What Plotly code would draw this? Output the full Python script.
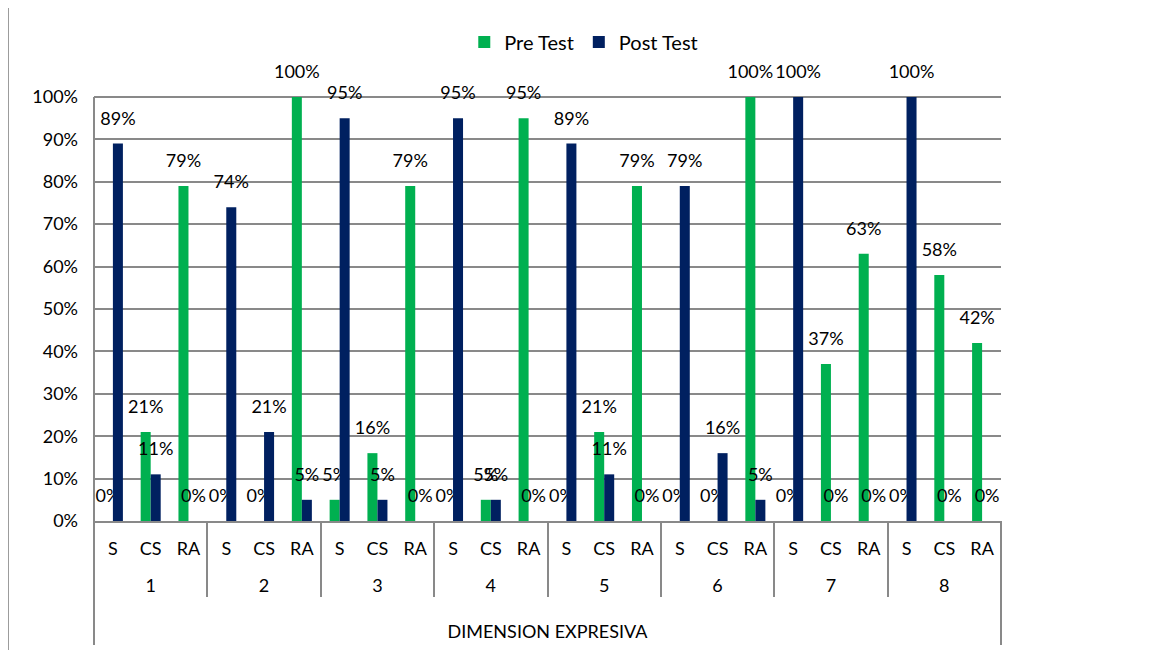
import plotly.graph_objects as go

# dimension groups and sub-categories
groups = ["1", "2", "3", "4", "5", "6", "7", "8"]
categories = ["S", "CS", "RA"]

# percentages, in order group 1 S/CS/RA, group 2 S/CS/RA, ...
pre_test = [0, 21, 79, 0, 0, 100, 5, 16, 79, 0, 5, 95,
            0, 21, 79, 0, 0, 100, 0, 37, 63, 0, 58, 42]
post_test = [89, 11, 0, 74, 21, 5, 95, 5, 0, 95, 5, 0,
             89, 11, 0, 79, 16, 5, 100, 0, 0, 100, 0, 0]

y_ticks = [0, 10, 20, 30, 40, 50, 60, 70, 80, 90, 100]

GREEN = "#00B050"
NAVY = "#002060"
GRID = "#898989"
FONT = "Lato"
FS = 18
LABEL_GAP = 2.8  # room between bar top and its label, in %
Y_TOP = 108      # axis runs a bit past 100% so the top labels have room

# blank first line pushes the group numbers down to a second row
x_outer = ["<br>" + g for g in groups for _ in categories]
x_inner = [c for _ in groups for c in categories]
x = [x_outer, x_inner]

fig = go.Figure()

for name, vals, color, grp in [("Pre Test", pre_test, GREEN, "pre"),
                               ("Post Test", post_test, NAVY, "post")]:
    fig.add_trace(go.Bar(
        x=x, y=vals, name=name, marker_color=color,
        marker_line_width=0, offsetgroup=grp,
    ))
    # transparent bar reaching a bit above the real one, carries the label
    fig.add_trace(go.Bar(
        x=x, y=[v + LABEL_GAP for v in vals], offsetgroup=grp,
        marker_color="rgba(0,0,0,0)", marker_line_width=0,
        text=[f"{v}%" for v in vals], textposition="outside",
        textfont=dict(family=FONT, size=FS, color="black"),
        constraintext="none", cliponaxis=False,
        showlegend=False, hoverinfo="skip",
    ))

fig.update_layout(
    width=1153, height=650,
    template="none",
    paper_bgcolor="white", plot_bgcolor="white",
    font=dict(family=FONT, size=FS, color="black"),
    barmode="group", bargap=0.47, bargroupgap=0,
    margin=dict(l=86, r=160, t=55, b=137),
    legend=dict(
        orientation="h", x=0.54, xanchor="center", y=1.046, yanchor="middle",
        font=dict(family=FONT, size=20), traceorder="normal",
        bgcolor="rgba(0,0,0,0)",
    ),
    showlegend=True,
)

fig.update_yaxes(
    range=[0, Y_TOP], tickvals=y_ticks, ticktext=[f"{t}%" for t in y_ticks],
    showgrid=True, gridcolor=GRID, gridwidth=2,
    showline=False, zeroline=False, ticks="", ticklabelstandoff=15,
    tickfont=dict(family=FONT, size=FS), automargin=False,
)

fig.update_xaxes(
    type="multicategory", showdividers=True,
    dividercolor=GRID, dividerwidth=2,
    showline=True, linecolor=GRID, linewidth=2, mirror=False,
    showgrid=False, ticks="", automargin=False, ticklabelstandoff=10,
    tickfont=dict(family=FONT, size=FS),
    title=dict(text="DIMENSION EXPRESIVA", font=dict(family=FONT, size=FS), standoff=30),
)

# value axis line only from 0% to 100%
fig.add_shape(type="line", xref="paper", yref="y", x0=0, x1=0,
              y0=y_ticks[0], y1=y_ticks[-1], line=dict(color=GRID, width=2))
# outer chart border on the left and axis box edges below the plot
fig.add_shape(type="line", xref="paper", yref="paper",
              x0=-0.095, x1=-0.095, y0=-0.29, y1=1.14,
              line=dict(color=GRID, width=2))
for xe in [0, 1]:
    fig.add_shape(type="line", xref="paper", yref="paper",
                  x0=xe, x1=xe, y0=-0.2707, y1=0,
                  line=dict(color=GRID, width=2))

fig.write_html("out.html")
